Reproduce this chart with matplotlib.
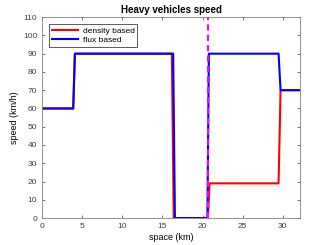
import numpy as np
import matplotlib.pyplot as plt

# space (km) and speed (km/h) breakpoints
x_density = [0, 3.87, 4.08, 16.17, 16.4, 20.66, 20.87, 29.47, 29.72, 32.2]
v_density = [60, 60, 90, 90, 0, 0, 19, 19, 70, 70]
x_flux = [0, 3.87, 4.08, 16.33, 16.55, 20.6, 20.78, 29.47, 29.72, 32.2]
v_flux = [60, 60, 90, 90, 0, 0, 90, 90, 70, 70]
x_marker = 20.68

plt.rcParams['font.family'] = ['Liberation Sans', 'DejaVu Sans']
plt.rcParams['font.size'] = 6

fig = plt.figure(figsize=(3.32, 2.45), dpi=100)
ax = fig.add_axes([0.127, 0.11, 0.778, 0.82])

ax.plot(x_density, v_density, color='#ff0000', lw=1.5, label='density based')
ax.plot(x_flux, v_flux, color='#0000ff', lw=1.5, label='flux based')
ax.axvline(x_marker, color='#ff00ff', lw=1.5, ls=(0, (3, 2)))

ax.set_xlim(0, 32.2)
ax.set_ylim(0, 110)
ax.set_xticks(np.arange(0, 31, 5))
ax.set_yticks(np.arange(0, 111, 10))
ax.tick_params(direction='in', length=2.5, width=0.5, colors='#404040',
               top=True, right=True, labelsize=6)
for s in ax.spines.values():
    s.set_color('#808080')
    s.set_linewidth(0.6)

ax.set_xlabel('space (km)', fontsize=6.5, labelpad=2)
ax.set_ylabel('speed (km/h)', fontsize=6.5, labelpad=3)
ax.set_title('Heavy vehicles speed', fontsize=7, fontweight='bold', pad=3)

leg = ax.legend(loc='upper left', fontsize=6, fancybox=False,
                edgecolor='#404040', framealpha=1, handlelength=3.2,
                borderpad=0.35, labelspacing=0.15, handletextpad=0.5,
                borderaxespad=0.8)
leg.get_frame().set_linewidth(0.6)

plt.savefig('out.png', dpi=100)
